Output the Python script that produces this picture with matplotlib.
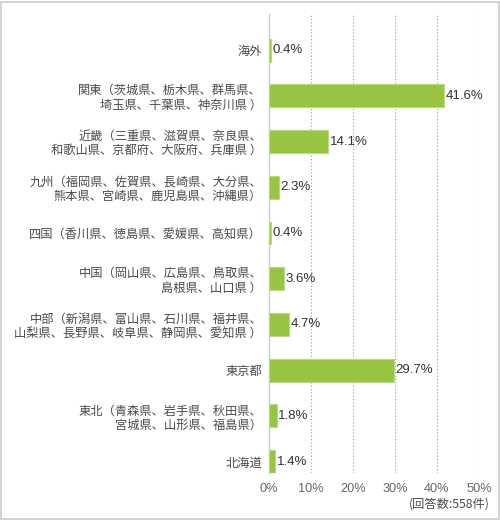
import matplotlib
matplotlib.use('Agg')
import matplotlib.pyplot as plt
from matplotlib.patches import Rectangle

plt.rcParams['font.family'] = ['Noto Sans CJK JP', 'DejaVu Sans']

# data
regions = [
    '海外',
    '関東（茨城県、栃木県、群馬県、\n埼玉県、千葉県、神奈川県 ）',
    '近畿（三重県、滋賀県、奈良県、\n和歌山県、京都府、大阪府、兵庫県 ）',
    '九州（福岡県、佐賀県、長崎県、大分県、\n熊本県、宮崎県、鹿児島県、沖縄県）',
    '四国（香川県、徳島県、愛媛県、高知県）',
    '中国（岡山県、広島県、鳥取県、\n島根県、山口県 ）',
    '中部（新潟県、富山県、石川県、福井県、\n山梨県、長野県、岐阜県、静岡県、愛知県 ）',
    '東京都',
    '東北（青森県、岩手県、秋田県、\n宮城県、山形県、福島県）',
    '北海道',
]
shares = [0.4, 41.6, 14.1, 2.3, 0.4, 3.6, 4.7, 29.7, 1.8, 1.4]
x_ticks = [0, 10, 20, 30, 40, 50]
x_labels = ['0%', '10%', '20%', '30%', '40%', '50%']
note = '(回答数:558件)'

bar_color = '#98c443'
edge_color = '#b9da80'

fig = plt.figure(figsize=(5, 5.2), dpi=100)
ax = fig.add_axes([0.538, 0.0904, 0.42, 0.8827])

pos = list(range(len(regions)))
ax.barh(pos, shares, height=0.5, color=bar_color, edgecolor=edge_color, linewidth=0.8, zorder=3)

for p, v in zip(pos, shares):
    ax.text(v + 0.4, p, f'{v}%', va='center', ha='left', fontsize=9.5,
            color='#333333', family=['Liberation Sans', 'DejaVu Sans'])

ax.set_xlim(0, 50)
ax.set_ylim(9.25, -0.79)
ax.set_xticks(x_ticks)
ax.set_xticklabels(x_labels, fontsize=9.2, color='#666666', family=['Liberation Sans', 'DejaVu Sans'])
ax.set_yticks(pos)
ax.set_yticklabels(regions, fontsize=8.8, color='#4a4a4a', linespacing=1.12)
ax.tick_params(axis='both', length=0)
ax.tick_params(axis='y', pad=5)
ax.tick_params(axis='x', pad=7)

for t in x_ticks[1:]:
    ax.axvline(t, color='#999999', linestyle=(0, (1, 2)), linewidth=0.8, zorder=1)

for s in ['top', 'right', 'bottom']:
    ax.spines[s].set_visible(False)
ax.spines['left'].set_color('#cccccc')
ax.spines['left'].set_linewidth(1)

fig.text(0.98, 0.031, note, ha='right', va='center', fontsize=8.8, color='#4a4a4a')

# outer frame
fig.patches.append(Rectangle((0.002, 0.002), 0.995, 0.995, transform=fig.transFigure,
                             fill=False, edgecolor='#cccccc', linewidth=1.2))

fig.savefig('out.png', dpi=100)
